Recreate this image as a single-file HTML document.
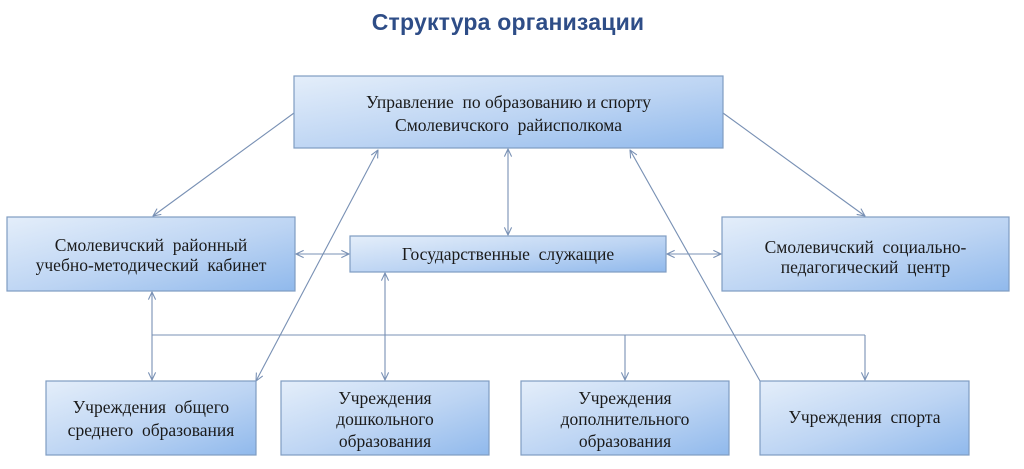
<!DOCTYPE html>
<html>
<head>
<meta charset="utf-8">
<style>
  html,body{margin:0;padding:0;background:#fff;}
  svg{display:block;}
  .t{font-family:"Liberation Serif","DejaVu Serif",serif;font-size:17.5px;fill:#1a1a1a;text-anchor:middle;white-space:pre;}
  .ttl{font-family:"Liberation Sans","DejaVu Sans",sans-serif;font-size:23px;font-weight:bold;fill:#2e4d87;text-anchor:middle;letter-spacing:0.2px;}
  .box{fill:url(#g);stroke:#7f9cc2;stroke-width:1.2;}
  .ln{stroke:#7890b4;stroke-width:1.1;fill:none;}
</style>
</head>
<body>
<svg width="1024" height="469" viewBox="0 0 1024 469" xmlns="http://www.w3.org/2000/svg">
  <defs>
    <linearGradient id="g" x1="0" y1="0" x2="1" y2="1">
      <stop offset="0" stop-color="#e4eefa"/>
      <stop offset="0.55" stop-color="#bcd4f3"/>
      <stop offset="1" stop-color="#90b9ec"/>
    </linearGradient>
    <marker id="a" viewBox="0 0 10 10" refX="9.5" refY="5" markerWidth="9" markerHeight="9" markerUnits="userSpaceOnUse" orient="auto-start-reverse">
      <path d="M1,1 L9.5,5 L1,9" fill="none" stroke="#7890b4" stroke-width="1.2"/>
    </marker>
  </defs>

  <text class="ttl" x="508" y="30">Структура организации</text>

  <!-- connectors -->
  <line class="ln" x1="294" y1="113" x2="153" y2="216" marker-end="url(#a)"/>
  <line class="ln" x1="723" y1="113" x2="865" y2="216" marker-end="url(#a)"/>
  <line class="ln" x1="508" y1="149" x2="508" y2="235" marker-start="url(#a)" marker-end="url(#a)"/>
  <line class="ln" x1="296" y1="254" x2="349" y2="254" marker-start="url(#a)" marker-end="url(#a)"/>
  <line class="ln" x1="667" y1="254" x2="721" y2="254" marker-start="url(#a)" marker-end="url(#a)"/>
  <line class="ln" x1="152" y1="292" x2="152" y2="380" marker-start="url(#a)" marker-end="url(#a)"/>
  <line class="ln" x1="385" y1="273" x2="385" y2="380" marker-start="url(#a)" marker-end="url(#a)"/>
  <line class="ln" x1="152" y1="335" x2="865" y2="335"/>
  <line class="ln" x1="625" y1="335" x2="625" y2="380" marker-end="url(#a)"/>
  <line class="ln" x1="865" y1="335" x2="865" y2="380" marker-end="url(#a)"/>
  <line class="ln" x1="256" y1="381" x2="378" y2="150" marker-start="url(#a)" marker-end="url(#a)"/>
  <line class="ln" x1="760" y1="381" x2="630" y2="150" marker-end="url(#a)"/>

  <!-- boxes -->
  <rect class="box" x="294" y="76" width="429" height="72"/>
  <text class="t" x="508.5" y="108">Управление  по образованию и спорту</text>
  <text class="t" x="508.5" y="131">Смолевичского  райисполкома</text>

  <rect class="box" x="7" y="217" width="288" height="74"/>
  <text class="t" x="151" y="251">Смолевичский  районный</text>
  <text class="t" x="151" y="271">учебно-методический  кабинет</text>

  <rect class="box" x="350" y="236" width="316" height="36"/>
  <text class="t" x="508" y="260">Государственные  служащие</text>

  <rect class="box" x="722" y="217" width="287" height="74"/>
  <text class="t" x="865.5" y="253">Смолевичский  социально-</text>
  <text class="t" x="865.5" y="273">педагогический  центр</text>

  <rect class="box" x="46" y="381" width="210" height="74"/>
  <text class="t" x="151" y="413">Учреждения  общего</text>
  <text class="t" x="151" y="436">среднего  образования</text>

  <rect class="box" x="281" y="381" width="208" height="74"/>
  <text class="t" x="385" y="404">Учреждения</text>
  <text class="t" x="385" y="425">дошкольного</text>
  <text class="t" x="385" y="447">образования</text>

  <rect class="box" x="521" y="381" width="208" height="74"/>
  <text class="t" x="625" y="404">Учреждения</text>
  <text class="t" x="625" y="425">дополнительного</text>
  <text class="t" x="625" y="447">образования</text>

  <rect class="box" x="760" y="381" width="209" height="74"/>
  <text class="t" x="864.5" y="423">Учреждения  спорта</text>
</svg>
</body>
</html>
